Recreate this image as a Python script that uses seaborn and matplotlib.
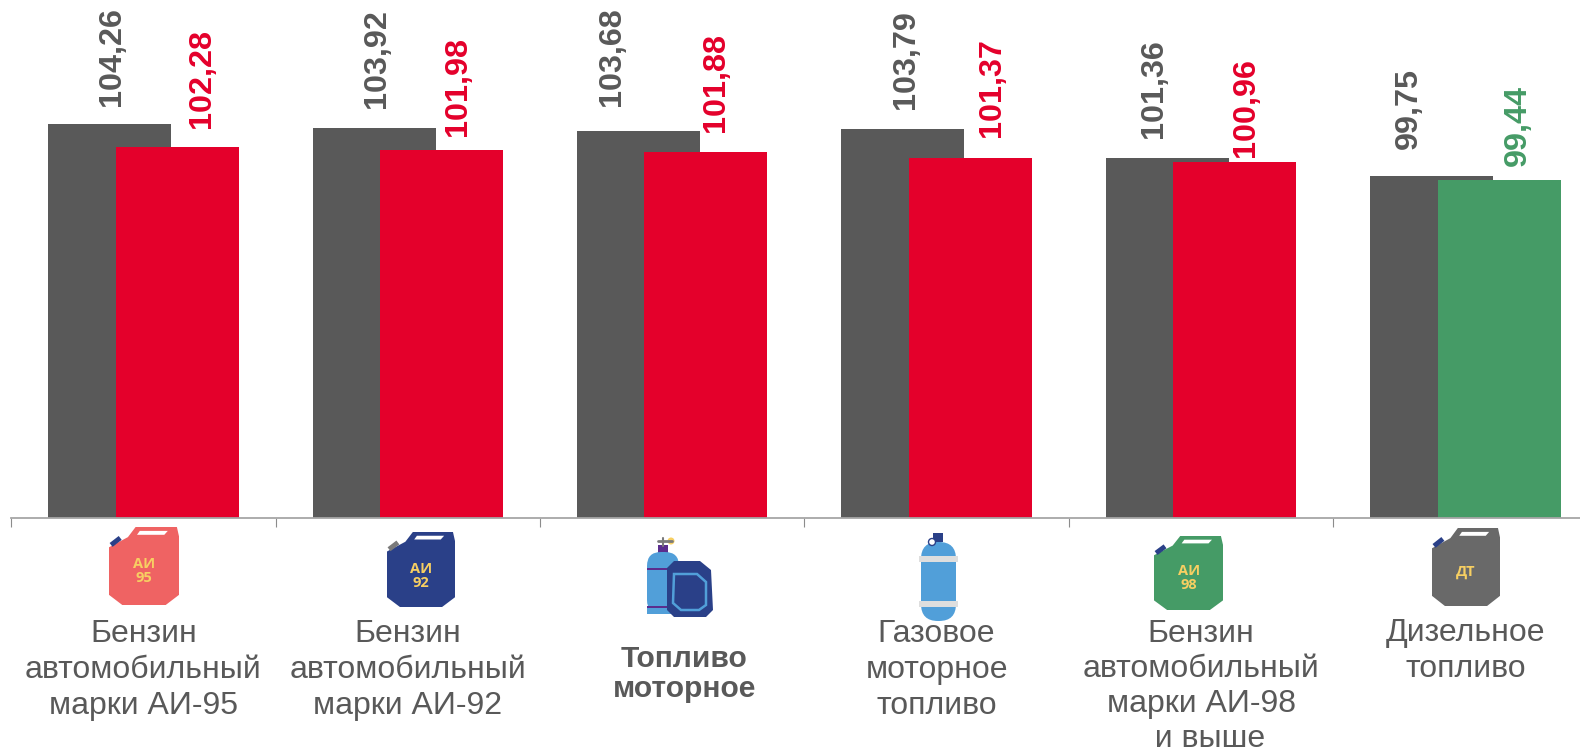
import numpy as np
import matplotlib
matplotlib.use("Agg")
import matplotlib.pyplot as plt
from matplotlib.patches import Polygon, FancyBboxPatch, Rectangle, Circle
import seaborn as sns

categories = ["Бензин\nавтомобильный\nмарки АИ-95",
              "Бензин\nавтомобильный\nмарки АИ-92",
              "Топливо\nмоторное",
              "Газовое\nмоторное\nтопливо",
              "Бензин\nавтомобильный\nмарки АИ-98\n  и выше",
              "Дизельное\nтопливо"]
previous = [104.26, 103.92, 103.68, 103.79, 101.36, 99.75]
current = [102.28, 101.98, 101.88, 101.37, 100.96, 99.44]
direction = ["down", "down", "down", "down", "down", "low"]

GREY, RED, GREEN, TEXT = "#595959", "#E4002B", "#459B66", "#595959"
palette = {"down": RED, "low": GREEN}

sns.set_theme(style="white")
plt.rcParams["font.family"] = ["Liberation Sans", "DejaVu Sans"]

W, H = 1580, 753
fig = plt.figure(figsize=(W / 100, H / 100), dpi=100, facecolor="white")
ax = fig.add_axes([11.2 / W, (H - 518) / H, 1586.4 / W, 518 / H])

slots = np.arange(len(categories), dtype=float)
OFF, BW = 0.1277, 0.465
sns.barplot(x=slots - OFF, y=previous, color=GREY, width=BW, saturation=1,
            native_scale=True, errorbar=None, ax=ax, linewidth=0)
sns.barplot(x=slots + OFF, y=current, hue=direction, palette=palette, width=BW, saturation=1,
            native_scale=True, dodge=False, errorbar=None, legend=False, ax=ax, linewidth=0)

ax.set_xlim(-0.5, 5.5)
ax.set_ylim(70.3, 114.95)
ax.set_yticks([])
ax.set_xlabel("")
ax.set_ylabel("")
for s in ["left", "right", "top"]:
    ax.spines[s].set_visible(False)
ax.spines["bottom"].set_color("#A6A6A6")
ax.spines["bottom"].set_linewidth(1.3)
ax.set_xticks(slots - 0.5)
ax.set_xticklabels([])
ax.tick_params(axis="x", length=6.5, width=0.8, color="#8C8C8C", bottom=True, direction="out")

# value labels: (dx px, gap px above the bar)
prev_place = [(2, 18.5), (3, 19.5), (-26, 24.5), (3, 20.5), (-13, 19.5), (-23, 27.5)]
curr_place = [(25, 18.5), (16, 14.5), (10, 19.5), (22, 20.5), (11, 5.5), (19, 13.5)]
fmt = lambda v: f"{v:.2f}".replace(".", ",")
for i, v in enumerate(previous):
    dx, gap = prev_place[i]
    ax.annotate(fmt(v), xy=(i - OFF, v), xytext=(dx, gap), textcoords="offset pixels",
                rotation=90, ha="center", va="bottom", fontsize=23.3, fontweight="bold", color=GREY)
for i, v in enumerate(current):
    dx, gap = curr_place[i]
    ax.annotate(fmt(v), xy=(i + OFF, v), xytext=(dx, gap), textcoords="offset pixels",
                rotation=90, ha="center", va="bottom", fontsize=23.3, fontweight="bold",
                color=palette[direction[i]])

# category labels: (dx px, centre below axis px, line spacing)
label_place = [(0, 152, 1.27), (0, 152, 1.27), (12, 156, 1.05), (0, 152, 1.27), (0, 168.5, 1.22), (0, 133, 1.27)]
for i, lab in enumerate(categories):
    dx, dy, spacing = label_place[i]
    bold = i == 2
    ax.annotate(lab, xy=(i, 0), xycoords=ax.get_xaxis_transform(), xytext=(dx, -dy),
                textcoords="offset pixels", ha="center", va="center", color=TEXT, annotation_clip=False,
                fontsize=21.6 if bold else 23, fontweight="bold" if bold else "normal",
                linespacing=spacing)

# icons, in pixel coordinates of the figure
ov = fig.add_axes([0, 0, 1, 1], facecolor="none")
ov.set_xlim(0, W)
ov.set_ylim(H, 0)
ov.axis("off")

def canister(x0, y0, w, h, color, cap, lines, tx, ty):
    X = lambda f: x0 + f * w
    Y = lambda f: y0 + f * h
    ov.plot([X(0.03), X(0.16)], [Y(0.23), Y(0.14)], color=cap, lw=3.5, solid_capstyle="butt")
    ov.add_patch(Polygon([(X(0.38), Y(0)), (X(0.97), Y(0)), (X(1), Y(0.12)), (X(1), Y(0.87)),
                          (X(0.81), Y(1)), (X(0.19), Y(1)), (X(0), Y(0.87)), (X(0), Y(0.26)),
                          (X(0.27), Y(0.13))], closed=True, fc=color, ec="none"))
    ov.add_patch(Polygon([(X(0.44), Y(0.05)), (X(0.84), Y(0.05)), (X(0.79), Y(0.10)), (X(0.40), Y(0.10))],
                         closed=True, fc="white", ec="none"))
    for k, t in enumerate(lines):
        ov.text(tx, ty + k * 14, t, color="#F7CF62", fontsize=10.5, fontweight="bold",
                ha="center", va="center", family=["Open Sans", "DejaVu Sans"])

canister(109, 527, 70, 78, "#EF6363", "#2A4088", ["АИ", "95"], 144, 564)
canister(387, 532, 68, 75, "#2A4088", "#7A7A7A", ["АИ", "92"], 421, 569)
canister(1154, 536, 69, 74, "#459B66", "#2A4088", ["АИ", "98"], 1189, 571)
canister(1432, 528, 68, 78, "#696969", "#2A4088", ["ДТ"], 1466, 572)

# gas cylinder
BLUE = "#519FD9"
ov.add_patch(Rectangle((933, 533), 10, 9, fc="#2A4088", ec="none"))
ov.add_patch(FancyBboxPatch((921 + 17, 542 + 17), 1, 45, boxstyle="round,pad=17,rounding_size=17",
                            fc=BLUE, ec="none"))
ov.add_patch(Circle((932, 542), 3.5, fc="white", ec="#2A4088", lw=1))
for y in (559, 604):
    ov.add_patch(Rectangle((919, y - 3), 39, 6, fc="#DEDEDE", ec="none"))

# fuel pair
ov.plot([658, 672], [541, 541], color="#7A7A7A", lw=2)
ov.plot([663, 663], [538, 546], color="#7A7A7A", lw=1.5)
ov.add_patch(Circle((671, 541), 3.5, fc="#F7CF62", ec="none"))
ov.add_patch(Rectangle((658, 545), 10, 8, fc="#5B2D8E", ec="none"))
ov.add_patch(FancyBboxPatch((647 + 14, 552 + 14), 4, 34, boxstyle="round,pad=14,rounding_size=14",
                            fc=BLUE, ec="none"))
ov.add_patch(Rectangle((647, 607), 32, 7, fc=BLUE, ec="none"))
for y in (569, 607):
    ov.add_patch(Rectangle((647, y - 1), 32, 2, fc="#5B2D8E", ec="none"))
ov.add_patch(Polygon([(674, 561), (700, 561), (711, 570), (713, 610), (706, 617), (674, 617),
                      (667, 610), (667, 568)], closed=True, fc="#2A4088", ec="none"))
ov.add_patch(Polygon([(674, 574), (697, 574), (706, 582), (706, 605), (699, 610), (681, 610),
                      (673, 603)], closed=True, fc="none", ec=BLUE, lw=1.8))

fig.savefig("out.png", dpi=100)
